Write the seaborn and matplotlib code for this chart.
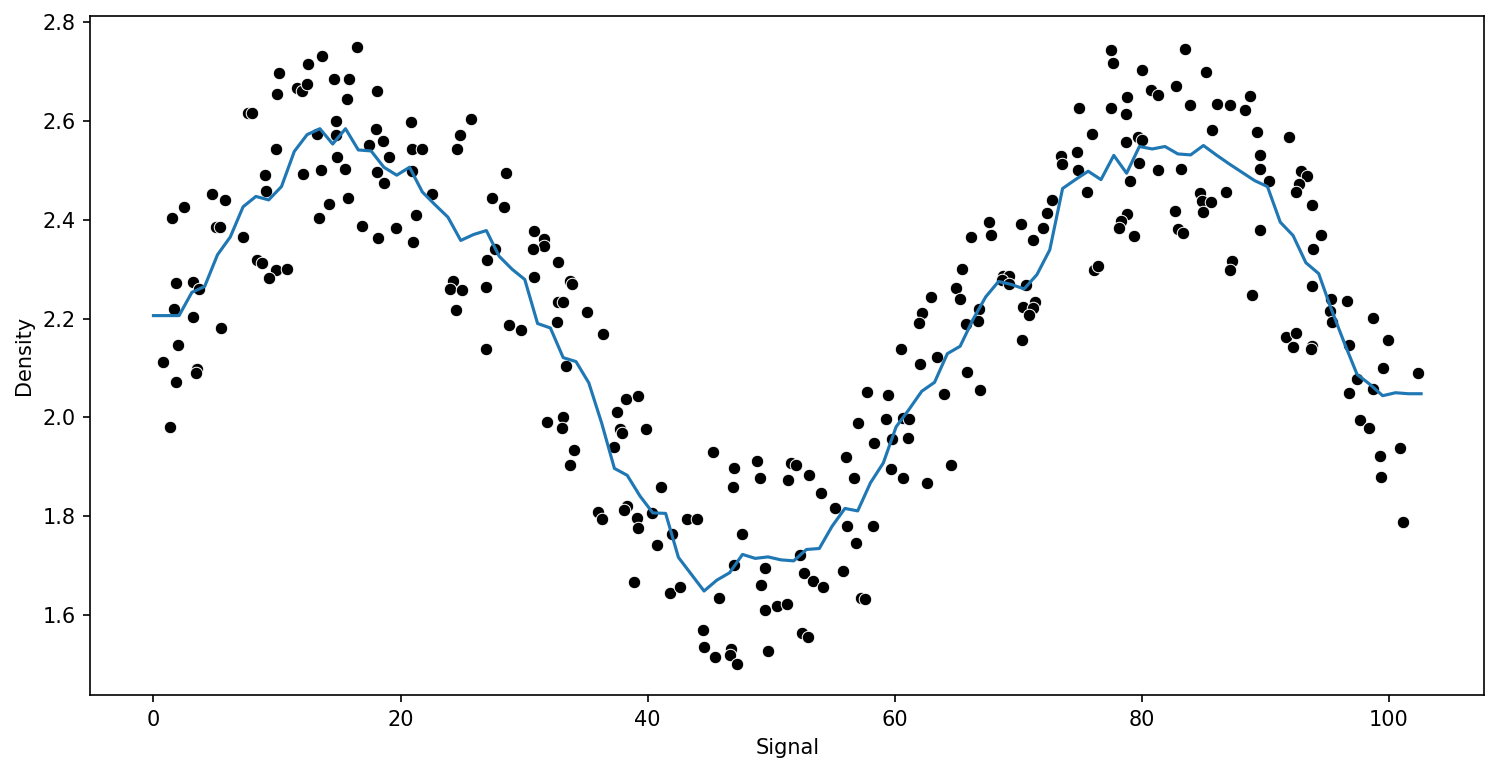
import numpy as np
import seaborn as sns
import matplotlib
matplotlib.use("Agg")
import matplotlib.pyplot as plt

# %% Scattered samples
signal = [16.45, 13.67, 12.54, 10.19, 14.64, 15.86, 11.65, 12.00, 12.46, 9.98,
          15.70, 18.07, 7.63, 7.99, 14.75, 17.99, 13.21, 14.78, 18.61, 17.48,
          9.89, 19.09, 14.83, 9.04, 12.08, 13.54, 15.53, 18.07, 18.69, 9.09,
          4.72, 5.77, 2.51, 1.48, 14.18, 15.78, 13.43, 5.07, 5.40, 7.28,
          16.91, 18.15, 19.64, 8.36, 8.82, 9.89, 10.84, 9.39, 1.80, 3.18,
          3.72, 1.70, 3.18, 5.50, 1.97, 0.75, 3.50, 3.42, 1.86, 1.32,
          25.67, 20.82, 24.78, 20.90, 21.71, 24.54, 20.90, 28.50, 22.52, 27.37,
          28.34, 21.22, 21.04, 30.83, 31.63, 31.63, 30.69, 27.65, 26.97, 32.71,
          30.77, 33.71, 33.84, 24.22, 24.03, 24.94, 26.88, 24.46, 32.71, 33.17,
          35.06, 32.63, 28.78, 29.72, 36.35, 26.94, 33.36, 38.21, 39.24, 37.48,
          37.76, 37.89, 37.30, 31.82, 33.17, 33.09, 34.04, 33.68, 35.95, 36.27,
          38.35, 38.11, 39.10, 39.24, 38.92,
          39.83, 40.37, 41.12, 45.25, 47.01, 46.87, 48.89, 49.13, 51.64, 52.00,
          51.32, 53.02, 53.99, 57.04, 58.33, 56.09, 56.69, 55.20, 56.17, 58.25,
          56.90, 43.15, 43.96, 42.01, 40.72, 47.65, 41.77, 42.58, 45.79, 46.95,
          49.46, 49.21, 52.37, 52.69, 53.42, 54.23, 55.85, 57.23, 57.63, 49.46,
          50.49, 51.24, 44.44, 44.58, 45.47, 46.71, 46.63, 47.27, 49.70, 52.51,
          52.99,
          72.76, 72.35, 72.03, 71.22, 70.25, 67.66, 67.82, 66.21, 65.48, 68.77,
          69.23, 68.69, 69.28, 70.66, 64.99, 65.27, 62.97, 62.24, 62.00, 66.80,
          66.75, 65.80, 70.39, 71.38, 71.20, 70.87, 70.33, 60.54, 62.08, 63.45,
          65.88, 66.93, 64.00, 57.79, 59.49, 59.33, 60.68, 61.17, 59.81, 61.08,
          59.73, 60.70, 62.62, 64.59,
          73.49, 73.54, 74.92, 76.00, 74.78, 74.84, 75.57, 76.13, 76.46, 77.53,
          77.67, 83.50, 80.04, 85.19, 82.77, 80.77, 81.31, 78.83, 78.75, 77.53,
          83.92, 86.11, 87.14, 88.78, 88.37, 85.68, 89.34, 91.88, 79.72, 80.04,
          78.75, 79.80, 79.07, 81.31, 83.20, 89.56, 89.56, 90.29, 84.68, 84.87,
          85.62, 84.98, 86.84, 82.69, 82.93, 83.31, 78.83, 78.34, 78.18, 79.39,
          89.59, 92.90, 93.34, 92.74, 92.50, 93.80, 94.47, 93.88, 87.30, 87.14,
          88.92, 93.80, 91.69, 92.50, 92.26, 93.80, 93.71, 95.33, 96.60, 95.23,
          95.39, 98.73, 99.92, 96.74, 99.54, 102.35, 97.44, 98.73, 96.76, 97.65,
          98.38, 100.91, 99.30, 99.35, 101.16]

density = [2.749, 2.731, 2.715, 2.696, 2.684, 2.684, 2.666, 2.661, 2.675, 2.654,
           2.644, 2.661, 2.616, 2.616, 2.600, 2.584, 2.574, 2.572, 2.560, 2.552,
           2.543, 2.527, 2.527, 2.490, 2.492, 2.501, 2.503, 2.496, 2.474, 2.458,
           2.451, 2.440, 2.426, 2.403, 2.432, 2.444, 2.403, 2.385, 2.385, 2.365,
           2.388, 2.363, 2.383, 2.319, 2.313, 2.299, 2.300, 2.282, 2.271, 2.273,
           2.260, 2.220, 2.203, 2.180, 2.147, 2.113, 2.097, 2.089, 2.072, 1.981,
           2.604, 2.597, 2.572, 2.543, 2.543, 2.543, 2.499, 2.494, 2.451, 2.444,
           2.426, 2.409, 2.355, 2.378, 2.360, 2.346, 2.341, 2.341, 2.319, 2.315,
           2.284, 2.275, 2.269, 2.275, 2.260, 2.257, 2.264, 2.218, 2.233, 2.233,
           2.214, 2.193, 2.188, 2.176, 2.168, 2.139, 2.105, 2.038, 2.043, 2.012,
           1.976, 1.968, 1.941, 1.991, 2.000, 1.978, 1.935, 1.903, 1.809, 1.794,
           1.820, 1.812, 1.797, 1.777, 1.668,
           1.976, 1.806, 1.860, 1.931, 1.898, 1.860, 1.911, 1.878, 1.907, 1.904,
           1.874, 1.883, 1.848, 1.989, 1.949, 1.921, 1.877, 1.816, 1.780, 1.780,
           1.747, 1.794, 1.794, 1.764, 1.743, 1.764, 1.644, 1.658, 1.634, 1.702,
           1.695, 1.661, 1.721, 1.685, 1.670, 1.658, 1.689, 1.634, 1.632, 1.610,
           1.618, 1.622, 1.570, 1.536, 1.515, 1.531, 1.519, 1.501, 1.527, 1.564,
           1.555,
           2.440, 2.414, 2.383, 2.359, 2.392, 2.395, 2.370, 2.365, 2.300, 2.287,
           2.287, 2.279, 2.270, 2.267, 2.262, 2.240, 2.244, 2.212, 2.191, 2.220,
           2.196, 2.190, 2.224, 2.233, 2.222, 2.208, 2.156, 2.139, 2.109, 2.123,
           2.092, 2.056, 2.048, 2.052, 2.046, 1.997, 1.999, 1.996, 1.956, 1.958,
           1.896, 1.878, 1.868, 1.904,
           2.528, 2.513, 2.626, 2.574, 2.536, 2.500, 2.456, 2.299, 2.306, 2.743,
           2.717, 2.745, 2.702, 2.698, 2.671, 2.662, 2.653, 2.648, 2.614, 2.625,
           2.632, 2.634, 2.632, 2.651, 2.621, 2.582, 2.577, 2.567, 2.568, 2.562,
           2.557, 2.515, 2.479, 2.501, 2.503, 2.530, 2.502, 2.479, 2.454, 2.437,
           2.436, 2.415, 2.456, 2.418, 2.382, 2.374, 2.412, 2.398, 2.383, 2.366,
           2.379, 2.498, 2.489, 2.473, 2.456, 2.430, 2.370, 2.341, 2.316, 2.299,
           2.248, 2.266, 2.163, 2.170, 2.143, 2.145, 2.139, 2.240, 2.236, 2.216,
           2.193, 2.202, 2.156, 2.147, 2.100, 2.089, 2.078, 2.057, 2.050, 1.995,
           1.979, 1.939, 1.923, 1.880, 1.789]

# %% Fitted curve, evaluated on an even grid over the signal range
fit_x = np.linspace(0, 102.6, 100)
fit_y = [2.206, 2.206, 2.206, 2.253, 2.265, 2.329, 2.365, 2.426, 2.447, 2.440,
         2.467, 2.538, 2.572, 2.584, 2.553, 2.584, 2.541, 2.539, 2.506, 2.490,
         2.506, 2.456, 2.430, 2.405, 2.358, 2.370, 2.378, 2.326, 2.300, 2.279,
         2.190, 2.181, 2.121, 2.113, 2.070, 1.989, 1.897, 1.883, 1.841, 1.807,
         1.806, 1.717, 1.683, 1.649, 1.671, 1.686, 1.723, 1.715, 1.718, 1.712,
         1.710, 1.733, 1.735, 1.780, 1.816, 1.811, 1.868, 1.908, 1.981, 2.016,
         2.053, 2.071, 2.129, 2.144, 2.198, 2.244, 2.275, 2.269, 2.260, 2.289,
         2.339, 2.463, 2.481, 2.498, 2.481, 2.530, 2.494, 2.548, 2.543, 2.548,
         2.533, 2.531, 2.550, 2.531, 2.513, 2.496, 2.479, 2.467, 2.395, 2.368,
         2.313, 2.291, 2.218, 2.151, 2.087, 2.067, 2.044, 2.050, 2.048, 2.048]


def main():
    plt.close("all")
    fig, ax = plt.subplots(figsize=(1501 / 150, 774 / 150), dpi=150)
    fig.subplots_adjust(left=0.060, right=0.989, bottom=0.102, top=0.979)

    sns.scatterplot(x=signal, y=density, color="black", ax=ax)
    sns.lineplot(x=fit_x, y=fit_y, ax=ax)

    ax.set_xlabel("Signal")
    ax.set_ylabel("Density")

    plt.savefig("out.png", dpi=150)


if __name__ == "__main__":
    main()
